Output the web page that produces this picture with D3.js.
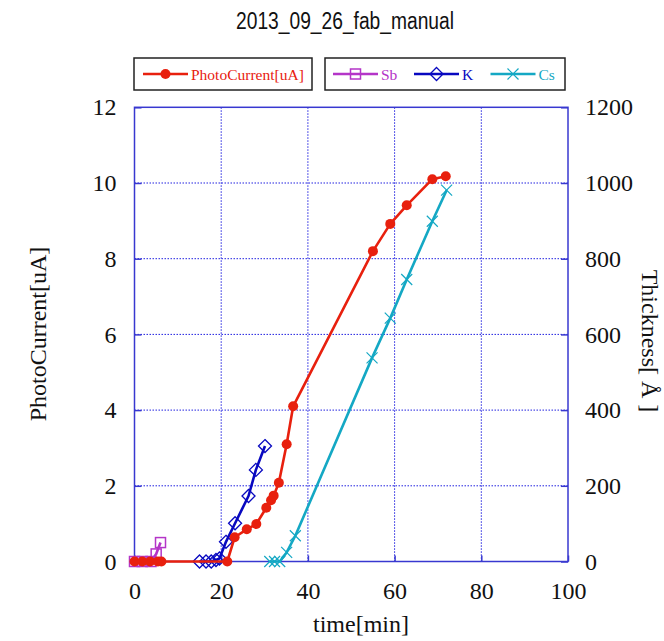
<!DOCTYPE html>
<html>
<head>
<meta charset="utf-8">
<script src="https://cdn.jsdelivr.net/npm/d3@7"></script>
<style>
  body { margin: 0; background: #fff; }
  svg { display: block; }
</style>
</head>
<body>
<svg id="chart"></svg>
<script>
// time[min] and values
const photoTime = [0, 1.8, 3.6, 5.4, 6.2, 21.4, 23.1, 25.9, 28.1, 30.4, 31.5, 32.1, 33.3, 35.1, 36.6, 55.0, 59.0, 62.8, 68.7, 71.8];
const photoCurrent = [0, 0, 0, 0, 0, 0, 0.64, 0.85, 0.99, 1.42, 1.62, 1.74, 2.08, 3.1, 4.1, 8.2, 8.92, 9.41, 10.1, 10.18];

const sbTime = [0, 1.8, 3.8, 5.0, 6.0];
const sbThick = [0, 0, 0, 20, 50];

const kTime = [15.0, 16.5, 17.7, 18.8, 19.6, 21.1, 23.2, 26.3, 28.0, 30.1];
const kThick = [0, 0, 0, 4, 8, 52, 101, 173, 242, 305];

const csTime = [31.2, 32.3, 33.5, 35.1, 37.1, 54.8, 59.0, 62.8, 68.7, 72.0];
const csThick = [0, 0, 0, 24, 68, 538, 643, 745, 899, 981];

const xTicks = [0, 20, 40, 60, 80, 100];
const yTicks = [0, 2, 4, 6, 8, 10, 12];
const y2Ticks = [0, 200, 400, 600, 800, 1000, 1200];

const W = 664, H = 641;
const plot = { left: 134.5, right: 568, top: 107.3, bottom: 561.5 };

const svg = d3.select('#chart').attr('width', W).attr('height', H);

const x = d3.scaleLinear().domain([0, 100]).range([plot.left, plot.right]);
const y = d3.scaleLinear().domain([0, 12]).range([plot.bottom, plot.top]);
const y2 = d3.scaleLinear().domain([0, 1200]).range([plot.bottom, plot.top]);

const frameColor = '#3838d0';
const serif = '"Liberation Serif", "Times New Roman", serif';

// title
svg.append('text')
    .attr('x', 345).attr('y', 29)
    .attr('text-anchor', 'middle')
    .attr('textLength', 218).attr('lengthAdjust', 'spacingAndGlyphs')
    .style('font-family', '"Liberation Sans", Arial, sans-serif')
    .style('font-size', '23px')
    .attr('fill', '#111')
    .text('2013_09_26_fab_manual');

// grid
const grid = svg.append('g');
grid.selectAll('.gx').data(xTicks.slice(1, -1)).enter().append('line')
    .attr('x1', d => x(d)).attr('x2', d => x(d))
    .attr('y1', plot.top).attr('y2', plot.bottom)
    .attr('stroke', '#2020e0').attr('stroke-width', 1).attr('stroke-dasharray', '1.5,1.5');
grid.selectAll('.gy').data(yTicks.slice(1, -1)).enter().append('line')
    .attr('x1', plot.left).attr('x2', plot.right)
    .attr('y1', d => y(d)).attr('y2', d => y(d))
    .attr('stroke', '#2020e0').attr('stroke-width', 1).attr('stroke-dasharray', '1.5,1.5');

// axes (ticks point inwards)
const xAxis = d3.axisBottom(x).tickValues(xTicks).tickSizeInner(-6).tickSizeOuter(0).tickPadding(20);
const yAxis = d3.axisLeft(y).tickValues(yTicks).tickSizeInner(-7).tickSizeOuter(0).tickPadding(18);
const y2Axis = d3.axisRight(y2).tickValues(y2Ticks).tickFormat(d3.format('d'))
    .tickSizeInner(-7).tickSizeOuter(0).tickPadding(17);

function styleAxis(g) {
    g.select('.domain').remove();
    g.selectAll('.tick line').attr('stroke', frameColor).attr('stroke-width', 1.5);
    g.selectAll('.tick text')
        .style('font-family', serif).style('font-size', '24px').attr('fill', '#111');
}

svg.append('g').attr('transform', `translate(0,${plot.bottom})`).call(xAxis).call(styleAxis)
    .selectAll('.tick text').attr('dy', '0.71em');
svg.append('g').attr('transform', `translate(${plot.left},0)`).call(yAxis).call(styleAxis);
svg.append('g').attr('transform', `translate(${plot.right},0)`).call(y2Axis).call(styleAxis);

// frame
svg.append('rect')
    .attr('x', plot.left).attr('y', plot.top)
    .attr('width', plot.right - plot.left).attr('height', plot.bottom - plot.top)
    .attr('fill', 'none').attr('stroke', frameColor).attr('stroke-width', 1.5);

// axis titles
svg.append('text')
    .attr('x', 361).attr('y', 632).attr('text-anchor', 'middle')
    .style('font-family', serif).style('font-size', '24px').attr('fill', '#111')
    .text('time[min]');
svg.append('text')
    .attr('transform', 'translate(46,334) rotate(-90)').attr('text-anchor', 'middle')
    .style('font-family', serif).style('font-size', '24px').attr('fill', '#111')
    .text('PhotoCurrent[uA]');
svg.append('text')
    .attr('transform', 'translate(642,341) rotate(90)').attr('text-anchor', 'middle')
    .style('font-family', serif).style('font-size', '24px').attr('fill', '#111')
    .text('Thickness[ Å ]');

// series
const red = '#e8200e', purple = '#b435c8', blue = '#0808c0', teal = '#14a8c4';

const series = [
    { name: 'PhotoCurrent[uA]', t: photoTime, v: photoCurrent, ys: y, color: red, marker: 'dot' },
    { name: 'Sb', t: sbTime, v: sbThick, ys: y2, color: purple, marker: 'square' },
    { name: 'K', t: kTime, v: kThick, ys: y2, color: blue, marker: 'diamond' },
    { name: 'Cs', t: csTime, v: csThick, ys: y2, color: teal, marker: 'cross' }
];

function drawMarker(g, type, color) {
    if (type === 'dot') {
        g.append('circle').attr('r', 5).attr('fill', color);
    } else if (type === 'square') {
        g.append('rect').attr('x', -5).attr('y', -5).attr('width', 10).attr('height', 10)
            .attr('fill', 'none').attr('stroke', color).attr('stroke-width', 1.5);
    } else if (type === 'diamond') {
        g.append('path').attr('d', 'M0,-6.5L6.5,0L0,6.5L-6.5,0Z')
            .attr('fill', 'none').attr('stroke', color).attr('stroke-width', 1.3);
    } else {
        g.append('path').attr('d', 'M-5.5,-5.5L5.5,5.5M-5.5,5.5L5.5,-5.5')
            .attr('fill', 'none').attr('stroke', color).attr('stroke-width', 1.2);
    }
}

const plotG = svg.append('g');
// red drawn last so it sits on top, as in the reference
[series[3], series[1], series[2], series[0]].forEach(s => {
    const pts = s.t.map((t, i) => [t, s.v[i]]);
    const line = d3.line().x(d => x(d[0])).y(d => s.ys(d[1]));
    plotG.append('path').datum(pts)
        .attr('d', line).attr('fill', 'none')
        .attr('stroke', s.color).attr('stroke-width', 2.6).attr('stroke-linejoin', 'round');
    plotG.selectAll(null).data(pts).enter().append('g')
        .attr('transform', d => `translate(${x(d[0])},${s.ys(d[1])})`)
        .each(function() { drawMarker(d3.select(this), s.marker, s.color); });
});

// legends
const legendFont = 15.5;
function legendBox(x0, x1, items) {
    const g = svg.append('g');
    g.append('rect').attr('x', x0).attr('y', 58).attr('width', x1 - x0).attr('height', 32)
        .attr('fill', '#fff').attr('stroke', '#222').attr('stroke-width', 1.5);
    items.forEach(it => {
        g.append('line').attr('x1', it.lx).attr('x2', it.lx + 45).attr('y1', 74).attr('y2', 74)
            .attr('stroke', it.s.color).attr('stroke-width', 2.4);
        const m = g.append('g').attr('transform', `translate(${it.lx + 22.5},74)`);
        drawMarker(m, it.s.marker, it.s.color);
        g.append('text').attr('x', it.lx + 48).attr('y', 80)
            .style('font-family', serif).style('font-size', legendFont + 'px')
            .attr('fill', it.s.color).text(it.s.name);
    });
}
legendBox(134, 312, [{ s: series[0], lx: 143 }]);
legendBox(325, 565, [
    { s: series[1], lx: 333 },
    { s: series[2], lx: 414 },
    { s: series[3], lx: 490.5 }
]);
</script>
</body>
</html>
